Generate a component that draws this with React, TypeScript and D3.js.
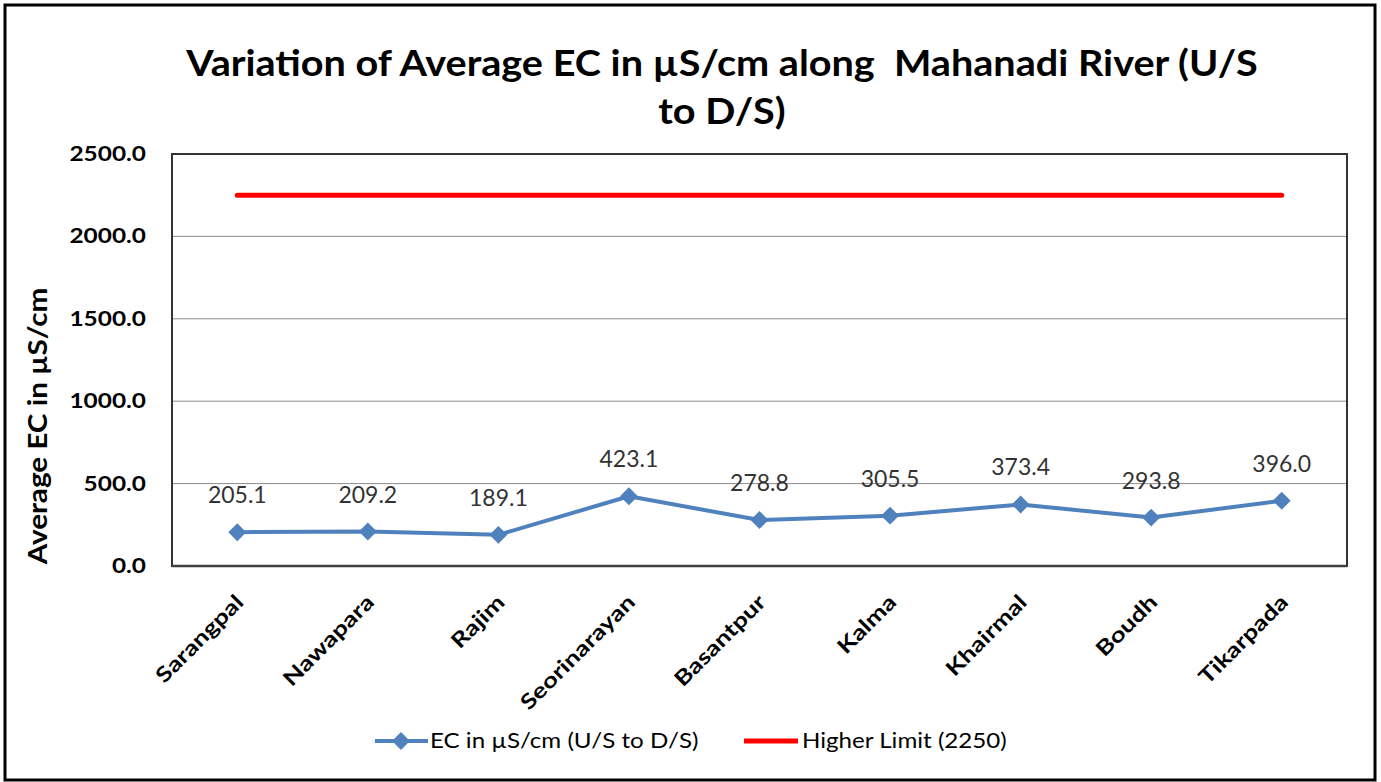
import React, { useEffect, useRef } from "react";
import * as d3 from "d3";

const categories = ["Sarangpal", "Nawapara", "Rajim", "Seorinarayan", "Basantpur", "Kalma", "Khairmal", "Boudh", "Tikarpada"];
const ecValues = [205.1, 209.2, 189.1, 423.1, 278.8, 305.5, 373.4, 293.8, 396.0];
const limitValue = 2250;
const yTicks = [0, 500, 1000, 1500, 2000, 2500];
const titleLines = ["Variation of Average EC in µS/cm along  Mahanadi River (U/S", "to D/S)"];
const yAxisTitle = "Average EC in µS/cm";
const seriesNames = ["EC in µS/cm (U/S to D/S)", "Higher Limit (2250)"];

const W = 1381, H = 782;
const FONT = "Lato, 'Open Sans', sans-serif";
const BLUE = "#4F81BD";
const RED = "#FF0000";

export default function App() {
  const ref = useRef<SVGSVGElement>(null);
  useEffect(() => {
    const svg = d3.select(ref.current);
    svg.selectAll("*").remove();
    const m = { left: 172, top: 154, right: 1347, bottom: 566 };
    const x = d3.scaleBand<string>().domain(categories).range([m.left, m.right]).padding(0);
    const cx = (c: string) => (x(c) as number) + x.bandwidth() / 2;
    const y = d3.scaleLinear().domain([0, 2500]).range([m.bottom, m.top]);

    svg.append("rect").attr("width", W).attr("height", H).attr("fill", "#fff");
    svg.append("rect").attr("x", 5).attr("y", 5).attr("width", 1370).attr("height", 775)
      .attr("fill", "none").attr("stroke", "#000").attr("stroke-width", 3);

    // title
    svg.append("g").selectAll("text").data(titleLines).join("text")
      .attr("transform", (_d, i) => `translate(722,${76 + i * 48}) scale(1.1,1)`)
      .attr("text-anchor", "middle").attr("font-family", FONT).attr("font-weight", 700)
      .attr("font-size", 36).attr("fill", "#000").style("white-space", "pre").text(d => d);

    // grid
    svg.append("g").selectAll("line").data(yTicks.filter(t => t > 0 && t < 2500)).join("line")
      .attr("x1", m.left).attr("x2", m.right).attr("y1", d => y(d)).attr("y2", d => y(d))
      .attr("stroke", "#8c8c8c").attr("stroke-width", 1);

    // plot border
    svg.append("rect").attr("x", m.left).attr("y", m.top).attr("width", m.right - m.left).attr("height", m.bottom - m.top)
      .attr("fill", "none").attr("stroke", "#333").attr("stroke-width", 2);
    svg.append("line").attr("x1", m.left).attr("x2", m.right).attr("y1", m.bottom).attr("y2", m.bottom)
      .attr("stroke", "#404040").attr("stroke-width", 2.5);

    // y ticks
    svg.append("g").selectAll("text").data(yTicks).join("text")
      .attr("transform", d => `translate(146,${y(d)}) scale(1.22,1)`)
      .attr("dy", "0.35em").attr("text-anchor", "end")
      .attr("font-family", FONT).attr("font-weight", 700).attr("font-size", 20).attr("fill", "#000")
      .text(d => d3.format(".1f")(d));

    // y title
    svg.append("text").attr("transform", `translate(47,426) rotate(-90) scale(1.14,1)`)
      .attr("text-anchor", "middle").attr("font-family", FONT).attr("font-weight", 700)
      .attr("font-size", 26).attr("fill", "#000").text(yAxisTitle);

    // x labels
    svg.append("g").selectAll("text").data(categories).join("text")
      .attr("transform", d => `translate(${cx(d) + 2},${m.bottom + 32}) rotate(-45) scale(1.25,1)`)
      .attr("text-anchor", "end").attr("dominant-baseline", "central")
      .attr("font-family", FONT).attr("font-weight", 700).attr("font-size", 21).attr("fill", "#000")
      .text(d => d);

    // limit line
    const lim = d3.line<string>().x(d => cx(d)).y(() => y(limitValue));
    svg.append("path").attr("d", lim(categories) as string).attr("fill", "none")
      .attr("stroke", RED).attr("stroke-width", 5).attr("stroke-linecap", "round");

    // EC line
    const idx = d3.range(categories.length);
    const line = d3.line<number>().x(i => cx(categories[i])).y(i => y(ecValues[i]));
    svg.append("path").attr("d", line(idx) as string).attr("fill", "none")
      .attr("stroke", BLUE).attr("stroke-width", 4).attr("stroke-linejoin", "round");

    const diamond = d3.symbol().type(d3.symbolSquare).size(160);
    svg.append("g").selectAll("path").data(idx).join("path")
      .attr("d", diamond() as string)
      .attr("transform", i => `translate(${cx(categories[i])},${y(ecValues[i])}) rotate(45)`)
      .attr("fill", BLUE);

    // data labels
    svg.append("g").selectAll("text").data(idx).join("text")
      .attr("x", i => cx(categories[i])).attr("y", i => y(ecValues[i]) - 29)
      .attr("text-anchor", "middle").attr("font-family", FONT).attr("font-size", 23).attr("fill", "#333")
      .text(i => d3.format(".1f")(ecValues[i]));

    // legend
    const lg = svg.append("g");
    const ly = 741;
    lg.append("line").attr("x1", 375).attr("x2", 428).attr("y1", ly).attr("y2", ly)
      .attr("stroke", BLUE).attr("stroke-width", 4);
    lg.append("path").attr("d", diamond() as string).attr("transform", `translate(401,${ly}) rotate(45)`).attr("fill", BLUE);
    lg.append("text").attr("transform", `translate(430,${ly}) scale(1.15,1)`).attr("dy", "0.35em").attr("font-family", FONT)
      .attr("font-size", 21).attr("fill", "#000").text(seriesNames[0]);
    lg.append("line").attr("x1", 744).attr("x2", 798).attr("y1", ly).attr("y2", ly)
      .attr("stroke", RED).attr("stroke-width", 5);
    lg.append("text").attr("transform", `translate(802,${ly}) scale(1.15,1)`).attr("dy", "0.35em").attr("font-family", FONT)
      .attr("font-size", 21).attr("fill", "#000").text(seriesNames[1]);
  }, []);
  return (
    <svg ref={ref} width={W} height={H} style={{ position: "absolute", left: 0, top: 0, display: "block" }} />
  );
}
